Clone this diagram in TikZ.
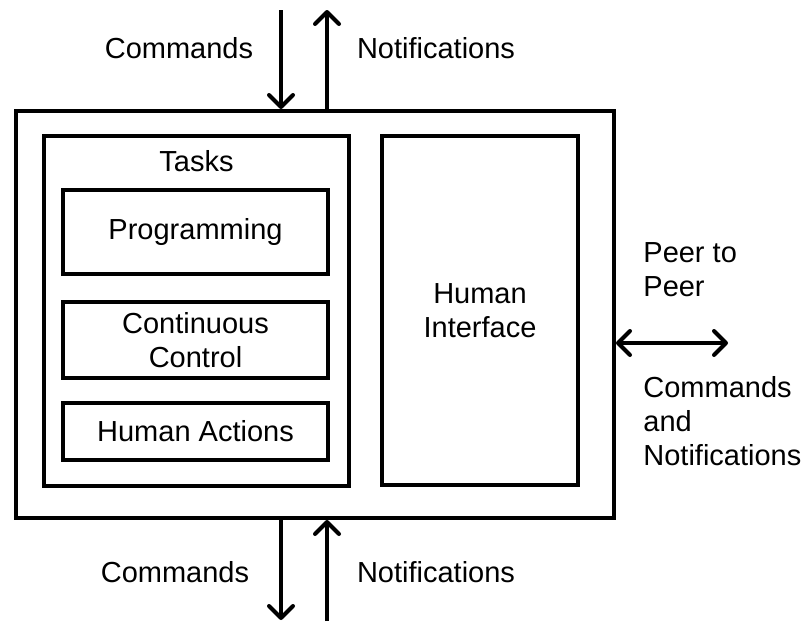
\documentclass[tikz,border=0pt]{standalone}
\usepackage{fontspec}
\setmainfont{Liberation Sans}
\usepackage{tikz}
\usetikzlibrary{arrows.meta,positioning}

\begin{document}
\begin{tikzpicture}[x=0.5pt,y=-0.5pt,>={Straight Barb[round,length=6pt,width=12pt]},
	 font=\fontsize{14.5}{17}\selectfont,
	 every box/.style={draw,line width=2pt,inner sep=0pt,align=center},
	 link/.style={line width=2pt},
	 caption/.style={inner sep=0pt,align=left}]
	 \useasboundingbox (0,0) rectangle (803,621);

	 \node[every box,minimum width=299pt,minimum height=203.5pt] (outer) at (315,314.5) {};
	 \node[every box,minimum width=152.5pt,minimum height=175pt] (tasks) at (196.5,311) {};
	 \node[caption] (tasksT) [below=8pt of tasks.north] {Tasks};
	 \node[every box,minimum width=132.5pt,minimum height=42pt] (prog) at (195.5,232) {Programming};
	 \node[every box,minimum width=132.5pt,minimum height=38pt] (cont) at (195.5,340) {Continuous\\Control};
	 \node[every box,minimum width=132.5pt,minimum height=28.5pt] (hact) at (195.5,431.5) {Human Actions};
	 \node[every box,minimum width=98pt,minimum height=174.5pt] (hint) at (480,310.5) {Human\\Interface};

	 % interfaces
	 \coordinate (topCmd) at (281,10);
	 \coordinate (topNot) at (327,10);
	 \coordinate (botCmd) at (281,620);
	 \coordinate (botNot) at (327,621);
	 \coordinate (peer) at (728,343);

	 \path[link,->]
	 (topCmd) edge (topCmd |- outer.north)
	 (topNot |- outer.north) edge (topNot)
	 (botCmd |- outer.south) edge (botCmd)
	 (botNot) edge (botNot |- outer.south)
	 ;
	 \draw[link,<->] (outer.east |- peer) -- (peer);

	 \node[caption] (cmdT) at (179,48) {Commands};
	 \node[caption] (notT) at (436,48) {Notifications};
	 \node[caption] (cmdB) at (175,572) {Commands};
	 \node[caption] (notB) at (436,572) {Notifications};
	 \node[caption,anchor=west] (peerT) at (643,270) {Peer to\\Peer};
	 \node[caption,anchor=west] (peerB) at (643,421) {Commands\\and\\Notifications};
\end{tikzpicture}
\end{document}
